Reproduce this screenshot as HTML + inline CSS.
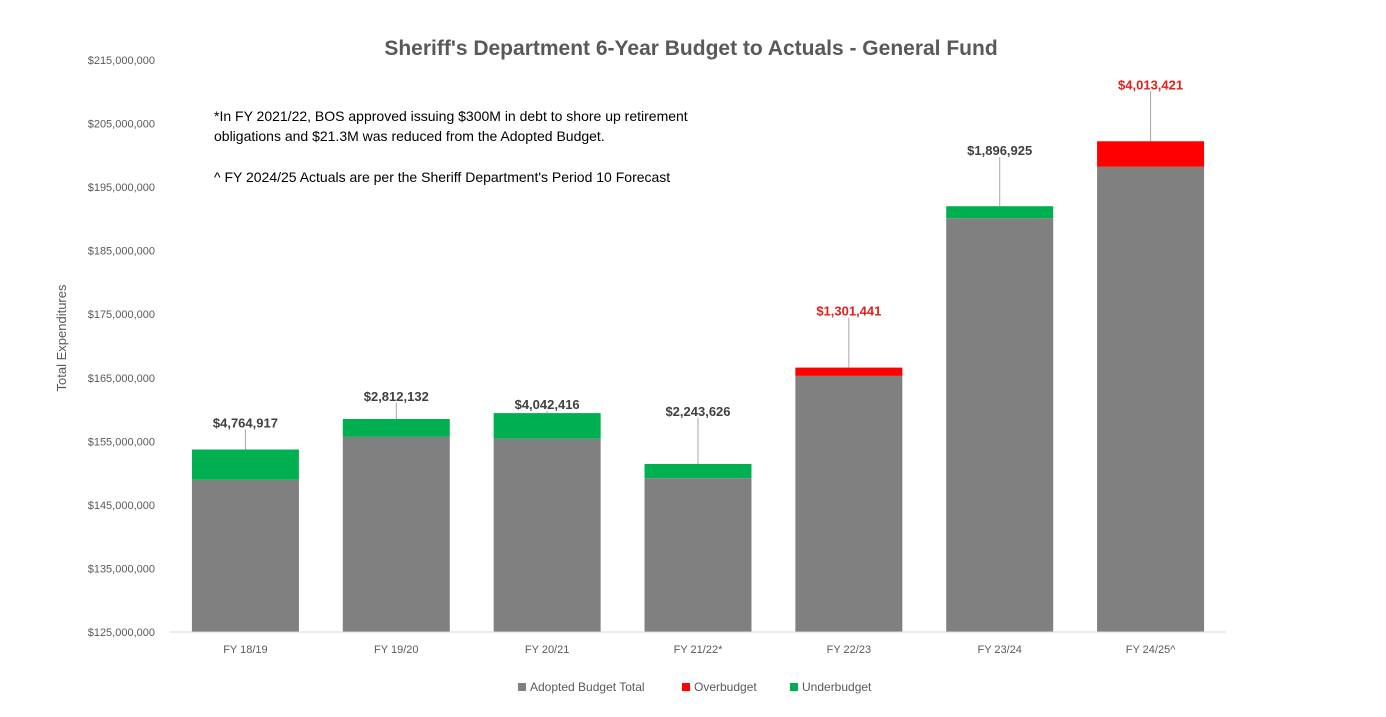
<!DOCTYPE html>
<html><head><meta charset="utf-8"><style>
body{margin:0;background:#fff;font-family:"Liberation Sans",sans-serif}
</style></head><body>
<svg id="c" width="1386" height="712" xmlns="http://www.w3.org/2000/svg" style="font-family:'Liberation Sans',sans-serif">
<text x="691" y="55" text-anchor="middle" font-size="21" font-weight="bold" fill="#595959">Sheriff's Department 6-Year Budget to Actuals - General Fund</text>
<text x="214" y="121" font-size="14" fill="#000">*In FY 2021/22, BOS approved issuing $300M in debt to shore up retirement</text>
<text x="214" y="141" font-size="14" fill="#000">obligations and $21.3M was reduced from the Adopted Budget.</text>
<text x="214" y="182" font-size="14" fill="#000">^ FY 2024/25 Actuals are per the Sheriff Department's Period 10 Forecast</text>
<text transform="translate(66,338) rotate(-90)" text-anchor="middle" font-size="13" fill="#595959">Total Expenditures</text>
<g id="yaxis"></g>
<g id="bars"></g>
<line x1="170" y1="632" x2="1226" y2="632" stroke="#d9d9d9"/>
<g font-size="12" fill="#595959">
<g><rect x="518" y="683" width="8" height="8" fill="#808080"/><text x="530" y="691">Adopted Budget Total</text></g>
<g><rect x="682" y="683" width="8" height="8" fill="#ff0000"/><text x="694" y="691">Overbudget</text></g>
<g><rect x="790" y="683" width="8" height="8" fill="#00b050"/><text x="802" y="691">Underbudget</text></g>
</g>
</svg>
<script>
const categories=["FY 18/19","FY 19/20","FY 20/21","FY 21/22*","FY 22/23","FY 23/24","FY 24/25^"];
const adopted=[148.95,155.7,155.4,149.2,165.3,190.1,198.2];
const overbudget=[0,0,0,0,1.301441,0,4.013421];
const underbudget=[4.764917,2.812132,4.042416,2.243626,0,1.896925,0];
const labels=["$4,764,917","$2,812,132","$4,042,416","$2,243,626","$1,301,441","$1,896,925","$4,013,421"];
const leaderLen=[20,16,2,46,50,49,50];
const yTicks=[125,135,145,155,165,175,185,195,205,215];
const NS="http://www.w3.org/2000/svg";
const y0=632,y1=60,vmin=125,vmax=215,xl=170,xr=1226;
const Y=v=>y0-(v-vmin)/(vmax-vmin)*(y0-y1);
const cw=(xr-xl)/categories.length, bw=107;
const X=i=>xl+cw*i+cw/2;
function el(t,a,p){const e=document.createElementNS(NS,t);for(const k in a)e.setAttribute(k,a[k]);p.appendChild(e);return e;}
const ya=document.getElementById('yaxis');
yTicks.forEach(v=>{
 const t=el('text',{x:155,y:Y(v)+4,'text-anchor':'end','font-size':11,fill:'#595959'},ya);
 
 
 t.textContent='$'+(v*1e6).toLocaleString('en-US');
});
const g=document.getElementById('bars');
categories.forEach((c,i)=>{
 const x=X(i)-bw/2;
 const a=el('rect',{x:x,y:Y(adopted[i]),width:bw,height:y0-Y(adopted[i]),fill:'#808080'},g);
 
 
 const extra=overbudget[i]>0?overbudget[i]:underbudget[i];
 const col=overbudget[i]>0?'#ff0000':'#00b050';
 const top=Y(adopted[i]+extra);
 const s=el('rect',{x:x,y:top,width:bw,height:Y(adopted[i])-top,fill:col},g);
 
 
 const ly=top-leaderLen[i];
 const ln=el('line',{x1:X(i),y1:top,x2:X(i),y2:ly,stroke:'#a6a6a6'},g);
 
 
 const lt=el('text',{x:X(i),y:ly-2,'text-anchor':'middle','font-size':13,'font-weight':'bold',fill:overbudget[i]>0?'#e0201b':'#404040'},g);
 
 
 lt.textContent=labels[i];
 const xt=el('text',{x:X(i),y:653,'text-anchor':'middle','font-size':11,fill:'#595959'},g);
 
 
 xt.textContent=c;
});
</script>
</body></html>
